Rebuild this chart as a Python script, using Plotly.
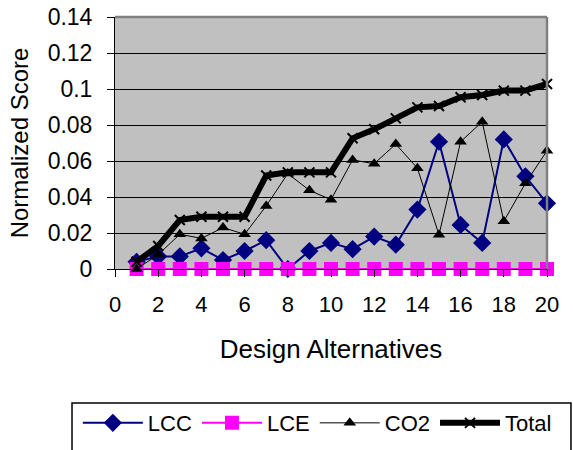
import plotly.graph_objects as go

alternatives = list(range(1, 21))
lcc = [0.004, 0.007, 0.007, 0.0115, 0.005, 0.010, 0.016, 0.0, 0.010, 0.0145,
       0.011, 0.018, 0.0135, 0.033, 0.0707, 0.0245, 0.0145, 0.072, 0.0515, 0.0365]
lce = [0.0] * 20
co2 = [0.0, 0.008, 0.0193, 0.017, 0.023, 0.0193, 0.035, 0.053, 0.0437, 0.0385,
       0.0606, 0.0585, 0.0694, 0.056, 0.019, 0.0707, 0.0818, 0.0265, 0.0476, 0.0657]
total = [0.004, 0.0128, 0.0272, 0.029, 0.029, 0.029, 0.0519, 0.0537, 0.0537, 0.0537,
         0.0726, 0.0776, 0.0837, 0.0898, 0.0906, 0.0954, 0.0967, 0.0991, 0.0991, 0.1028]

y_ticks = [0, 0.02, 0.04, 0.06, 0.08, 0.1, 0.12, 0.14]
x_ticks = [0, 2, 4, 6, 8, 10, 12, 14, 16, 18, 20]

FONT = "Liberation Sans, Arial, sans-serif"

fig = go.Figure()
fig.add_trace(go.Scatter(x=alternatives, y=lcc, name="LCC", mode="lines+markers",
                         cliponaxis=False,
                         line=dict(color="#000080", width=2),
                         marker=dict(symbol="diamond", size=14, color="#000080")))
fig.add_trace(go.Scatter(x=alternatives, y=lce, name="LCE", mode="lines+markers",
                         cliponaxis=False,
                         line=dict(color="#FF00FF", width=2),
                         marker=dict(symbol="square", size=14, color="#FF00FF")))
fig.add_trace(go.Scatter(x=alternatives, y=co2, name="CO2", mode="lines+markers",
                         cliponaxis=False,
                         line=dict(color="#000000", width=1),
                         marker=dict(symbol="triangle-up", size=11, color="#000000")))
fig.add_trace(go.Scatter(x=alternatives, y=total, name="Total", mode="lines+markers",
                         cliponaxis=False,
                         line=dict(color="#000000", width=6),
                         marker=dict(symbol="x-thin", size=10, color="#000000",
                                     line=dict(color="#000000", width=2))))

fig.update_layout(
    width=573, height=450,
    margin=dict(l=115, r=26, t=17, b=181, autoexpand=False),
    paper_bgcolor="white",
    plot_bgcolor="#C0C0C0",
    font=dict(family=FONT, color="black", size=22),
    showlegend=True,
    legend=dict(orientation="h", x=-0.086, xanchor="left", y=-0.528, yanchor="top",
                font=dict(size=22, family=FONT), bgcolor="rgba(0,0,0,0)",
                itemwidth=60, tracegroupgap=0),
    shapes=[
        dict(type="rect", xref="paper", yref="paper", x0=-0.0995, x1=1.0555,
             y0=-0.5317, y1=-0.80, line=dict(color="black", width=1.5),
             fillcolor="rgba(0,0,0,0)", layer="above"),
        dict(type="line", xref="paper", yref="paper", x0=0, x1=1, y0=1, y1=1,
             line=dict(color="#808080", width=2.5), layer="above"),
        dict(type="line", xref="paper", yref="paper", x0=1, x1=1, y0=0, y1=1,
             line=dict(color="#808080", width=2.5), layer="above"),
    ],
)
fig.update_xaxes(range=[0, 20], tickvals=x_ticks, ticktext=[str(v) for v in x_ticks],
                 showgrid=False, zeroline=False, showline=True, linecolor="black",
                 linewidth=1, ticks="outside", ticklen=7, tickcolor="black",
                 tickfont=dict(size=22, family=FONT), ticklabelstandoff=9,
                 title=dict(text="Design Alternatives", font=dict(size=26, family=FONT),
                            standoff=23))
fig.update_yaxes(range=[0, 0.14], tickvals=y_ticks,
                 ticktext=["0", "0.02", "0.04", "0.06", "0.08", "0.1", "0.12", "0.14"],
                 showgrid=True, gridcolor="black", gridwidth=1, zeroline=False,
                 showline=True, linecolor="black", linewidth=1, ticks="outside",
                 ticklen=7, tickcolor="black", tickfont=dict(size=23, family=FONT),
                 ticklabelstandoff=10,
                 title=dict(text="Normalized Score", font=dict(size=24, family=FONT),
                            standoff=12))

fig.write_html("out.html")
